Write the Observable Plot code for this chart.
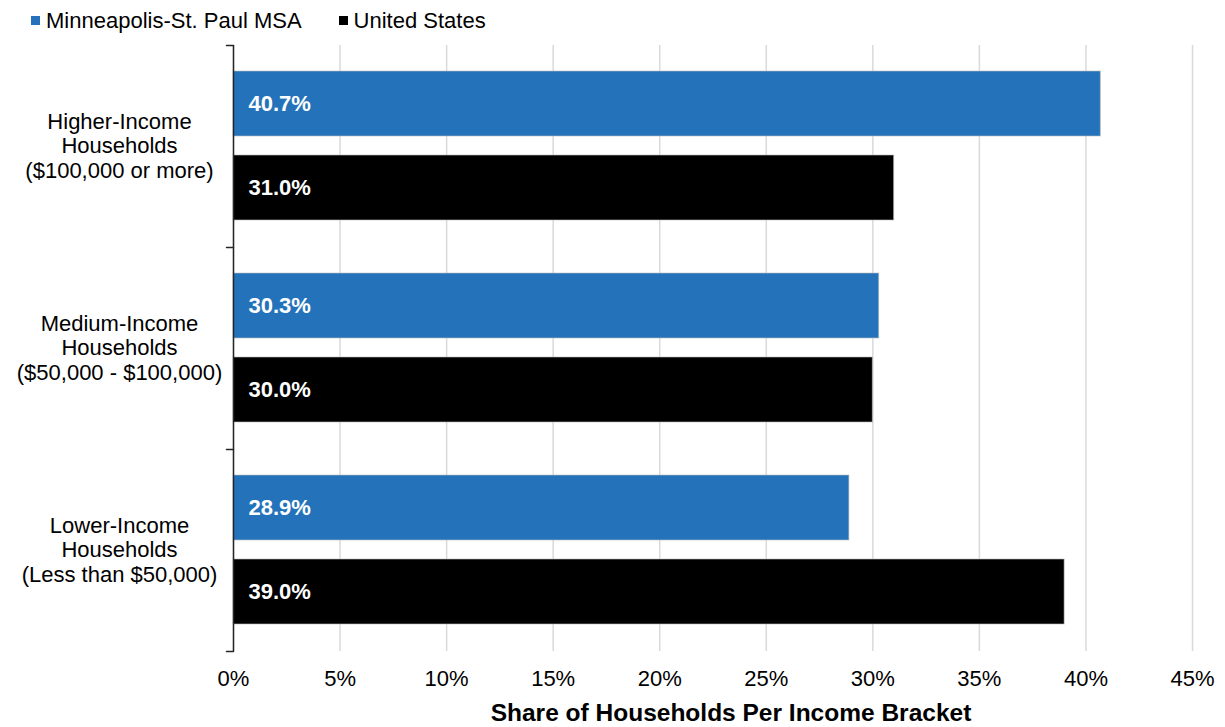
<!DOCTYPE html>
<html>
<head>
<meta charset="utf-8">
<script src="https://cdn.jsdelivr.net/npm/d3@7"></script>
<script src="https://cdn.jsdelivr.net/npm/@observablehq/plot@0.6"></script>
<style>
  html, body { margin: 0; padding: 0; background: #fff; }
  body { width: 1225px; height: 727px; overflow: hidden; font-family: "Liberation Sans", Arial, sans-serif; }
  #legend { height: 38px; display: flex; align-items: center; padding-left: 31px; box-sizing: border-box; padding-top: 3px; font-size: 22px; color: #000; }
  .item { display: flex; align-items: center; margin-right: 37px; }
  .sw { width: 9px; height: 9px; margin-right: 6px; }
  svg { display: block; }
</style>
</head>
<body>
<div id="legend"></div>
<div id="chart"></div>
<script>
const categories = [
  "Higher-Income\nHouseholds\n($100,000 or more)",
  "Medium-Income\nHouseholds\n($50,000 - $100,000)",
  "Lower-Income\nHouseholds\n(Less than $50,000)"
];
const seriesNames = ["Minneapolis-St. Paul MSA", "United States"];
const seriesColors = ["#2473BA", "#000000"];
const msaValues = [40.7, 30.3, 28.9];
const usValues = [31.0, 30.0, 39.0];
const xTicks = [0, 5, 10, 15, 20, 25, 30, 35, 40, 45];
const xTitle = "Share of Households Per Income Bracket";

const data = [];
categories.forEach((c, i) => {
  data.push({cat: c, series: seriesNames[0], value: msaValues[i]});
  data.push({cat: c, series: seriesNames[1], value: usValues[i]});
});

// legend
const legend = document.getElementById("legend");
seriesNames.forEach((s, i) => {
  const it = document.createElement("div");
  it.className = "item";
  const sw = document.createElement("div");
  sw.className = "sw";
  sw.style.background = seriesColors[i];
  const t = document.createElement("span");
  t.textContent = s;
  it.appendChild(sw); it.appendChild(t);
  legend.appendChild(it);
});

const tickShape = {draw(context, l) { context.moveTo(0, 0); context.lineTo(0, -l); }};
const font = "Liberation Sans, Arial, sans-serif";

const chart = Plot.plot({
  width: 1225,
  height: 689,
  marginLeft: 233,
  marginRight: 33,
  marginTop: 7,
  marginBottom: 76,
  style: {fontFamily: font, fontSize: "22px", color: "#000", background: "#fff"},
  x: {domain: [0, 45], axis: null},
  y: {domain: seriesNames, paddingInner: 0.226, paddingOuter: 0.31, axis: null},
  fy: {domain: categories, padding: 0, axis: null},
  color: {domain: seriesNames, range: seriesColors},
  marks: [
    Plot.gridX(xTicks, {stroke: "#d9d9d9", strokeOpacity: 1, strokeWidth: 1.5}),
    Plot.barX(data, {x: "value", y: "series", fy: "cat", fill: "series", stroke: "#bfbfbf", strokeWidth: 1, strokeOpacity: 0.6}),
    Plot.text(data, {x: 0, y: "series", fy: "cat", text: d => d.value.toFixed(1) + "%", dx: 15, textAnchor: "start", fill: "#fff", fontWeight: "bold", fontSize: 22}),
    Plot.ruleX([0], {stroke: "#262626", strokeWidth: 1.5}),
    Plot.vector(categories, {fy: d => d, frameAnchor: "top-left", rotate: -90, length: 7, anchor: "start", shape: tickShape, stroke: "#262626", strokeWidth: 1.5}),
    Plot.vector([categories[categories.length - 1]], {fy: d => d, frameAnchor: "bottom-left", rotate: -90, length: 7, anchor: "start", shape: tickShape, stroke: "#262626", strokeWidth: 1.5}),
    Plot.text(categories, {fy: d => d, text: d => d, frameAnchor: "left", dx: -114, dy: -1, textAnchor: "middle", lineHeight: 1.12, fontSize: 22, fill: "#000"}),
    Plot.axisX({ticks: xTicks, tickFormat: d => d + "%", tickSize: 0, tickPadding: 19, fontSize: 22, label: null, fill: "#000"}),
    Plot.text([xTitle], {fy: () => categories[categories.length - 1], text: d => d, frameAnchor: "bottom", dy: 69, dx: 18, fontWeight: "bold", fontSize: 24.5, fill: "#000"})
  ]
});
document.getElementById("chart").appendChild(chart);
</script>
</body>
</html>
